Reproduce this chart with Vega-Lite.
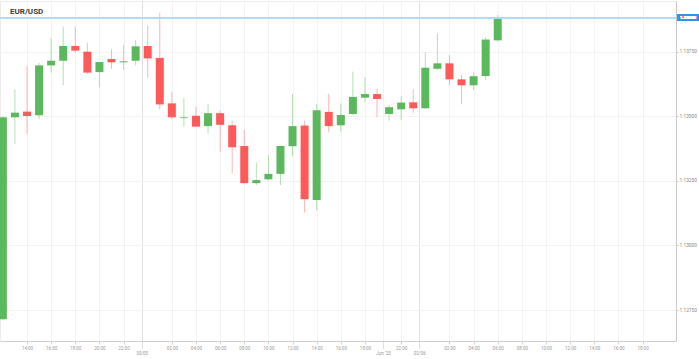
{
  "$schema": "https://vega.github.io/schema/vega-lite/v6.json",
  "width": 676,
  "height": 340,
  "autosize": {"type": "none"},
  "padding": {"top": 1, "left": 0, "right": 23, "bottom": 18},
  "background": "white",
  "config": {
    "view": {"stroke": "#ececec"},
    "font": "Roboto",
    "scale": {"continuousPadding": 0}
  },
  "title": {
    "text": "EUR/USD",
    "anchor": "start",
    "frame": "group",
    "orient": "top",
    "baseline": "middle",
    "offset": -11,
    "dx": 10,
    "dy": 8,
    "fontSize": 8,
    "fontWeight": "bold",
    "color": "#3a3a3a",
    "font": "Roboto"
  },
  "resolve": {"axis": {"x": "independent"}},
  "data": {
    "values": [
      {"i": -2, "o": 1.12714, "h": 1.13499, "l": 1.12710, "c": 1.13496},
      {"i": -1, "o": 1.13496, "h": 1.13604, "l": 1.13393, "c": 1.13514},
      {"i": 0, "o": 1.13518, "h": 1.13695, "l": 1.13431, "c": 1.13501},
      {"i": 1, "o": 1.13504, "h": 1.13707, "l": 1.13489, "c": 1.13697},
      {"i": 2, "o": 1.13697, "h": 1.13802, "l": 1.13669, "c": 1.13715},
      {"i": 3, "o": 1.13715, "h": 1.13847, "l": 1.13620, "c": 1.13772},
      {"i": 4, "o": 1.13772, "h": 1.13847, "l": 1.13746, "c": 1.13754},
      {"i": 5, "o": 1.13750, "h": 1.13785, "l": 1.13664, "c": 1.13669},
      {"i": 6, "o": 1.13671, "h": 1.13712, "l": 1.13612, "c": 1.13710},
      {"i": 7, "o": 1.13722, "h": 1.13760, "l": 1.13684, "c": 1.13709},
      {"i": 8, "o": 1.13709, "h": 1.13776, "l": 1.13679, "c": 1.13713},
      {"i": 9, "o": 1.13715, "h": 1.13795, "l": 1.13697, "c": 1.13771},
      {"i": 10, "o": 1.13772, "h": 1.13851, "l": 1.13649, "c": 1.13724},
      {"i": 11, "o": 1.13726, "h": 1.13901, "l": 1.13527, "c": 1.13546},
      {"i": 12, "o": 1.13550, "h": 1.13593, "l": 1.13489, "c": 1.13496},
      {"i": 13, "o": 1.13493, "h": 1.13571, "l": 1.13460, "c": 1.13496},
      {"i": 14, "o": 1.13502, "h": 1.13537, "l": 1.13458, "c": 1.13460},
      {"i": 15, "o": 1.13462, "h": 1.13546, "l": 1.13434, "c": 1.13512},
      {"i": 16, "o": 1.13512, "h": 1.13522, "l": 1.13363, "c": 1.13467},
      {"i": 17, "o": 1.13465, "h": 1.13483, "l": 1.13279, "c": 1.13380},
      {"i": 18, "o": 1.13385, "h": 1.13447, "l": 1.13239, "c": 1.13241},
      {"i": 19, "o": 1.13241, "h": 1.13322, "l": 1.13234, "c": 1.13253},
      {"i": 20, "o": 1.13256, "h": 1.13350, "l": 1.13251, "c": 1.13277},
      {"i": 21, "o": 1.13277, "h": 1.13387, "l": 1.13234, "c": 1.13385},
      {"i": 22, "o": 1.13384, "h": 1.13585, "l": 1.13346, "c": 1.13462},
      {"i": 23, "o": 1.13464, "h": 1.13483, "l": 1.13127, "c": 1.13179},
      {"i": 24, "o": 1.13176, "h": 1.13548, "l": 1.13136, "c": 1.13523},
      {"i": 25, "o": 1.13517, "h": 1.13587, "l": 1.13438, "c": 1.13462},
      {"i": 26, "o": 1.13465, "h": 1.13550, "l": 1.13438, "c": 1.13505},
      {"i": 27, "o": 1.13509, "h": 1.13673, "l": 1.13505, "c": 1.13575},
      {"i": 28, "o": 1.13572, "h": 1.13651, "l": 1.13554, "c": 1.13586},
      {"i": 29, "o": 1.13586, "h": 1.13608, "l": 1.13496, "c": 1.13567},
      {"i": 30, "o": 1.13509, "h": 1.13544, "l": 1.13483, "c": 1.13535},
      {"i": 31, "o": 1.13527, "h": 1.13578, "l": 1.13486, "c": 1.13553},
      {"i": 32, "o": 1.13554, "h": 1.13604, "l": 1.13514, "c": 1.13531},
      {"i": 33, "o": 1.13531, "h": 1.13748, "l": 1.13529, "c": 1.13688},
      {"i": 34, "o": 1.13684, "h": 1.13821, "l": 1.13679, "c": 1.13705},
      {"i": 35, "o": 1.13705, "h": 1.13737, "l": 1.13621, "c": 1.13643},
      {"i": 36, "o": 1.13643, "h": 1.13660, "l": 1.13546, "c": 1.13620},
      {"i": 37, "o": 1.13620, "h": 1.13670, "l": 1.13602, "c": 1.13655},
      {"i": 38, "o": 1.13656, "h": 1.13806, "l": 1.13640, "c": 1.13797},
      {"i": 39, "o": 1.13794, "h": 1.13892, "l": 1.13789, "c": 1.13882}
    ]
  },
  "layer": [
    {
      "mark": {"type": "rule", "strokeWidth": 1, "opacity": 0.45, "clip": true},
      "encoding": {
        "x": {
          "field": "i",
          "type": "quantitative",
          "scale": {"domain": [-2.237, 53.77], "nice": false, "zero": false, "padding": 0},
          "axis": {
            "title": null,
            "orient": "bottom",
            "values": [0, 2, 4, 6, 8, 12, 14, 16, 18, 20, 22, 24, 26, 28, 31, 35, 37, 39, 41, 43, 45, 47, 49, 51],
            "labelExpr": "((datum.value < 30 ? (14 + datum.value) % 24 : (datum.value - 9) % 24) < 10 ? '0' : '') + (datum.value < 30 ? (14 + datum.value) % 24 : (datum.value - 9) % 24) + ':00'",
            "labelFontSize": 4.5,
            "labelColor": "#9a9a9a",
            "labelFont": "Roboto",
            "labelPadding": 1,
            "labelFlush": false,
            "labelOverlap": false,
            "domainColor": "#cfcfcf",
            "tickColor": "#cfcfcf",
            "tickSize": 3,
            "grid": true,
            "gridColor": "#f3f3f3",
            "gridWidth": 1
          }
        },
        "y": {
          "field": "l",
          "type": "quantitative",
          "scale": {"domain": [1.1263, 1.139463], "nice": false, "zero": false, "padding": 0},
          "axis": {
            "title": null,
            "orient": "right",
            "values": [1.1275, 1.13, 1.1325, 1.135, 1.1375],
            "format": ".5f",
            "labelFontSize": 4.8,
            "labelColor": "#8a8a8a",
            "labelFont": "Roboto",
            "labelPadding": 1,
            "labelOverlap": false,
            "tickSize": 2,
            "tickColor": "#c8c8c8",
            "domainColor": "#c8c8c8",
            "grid": true,
            "gridColor": "#f3f3f3"
          }
        },
        "y2": {"field": "h"},
        "color": {"condition": {"test": "datum.c >= datum.o", "value": "#5cb85c"}, "value": "#ff5a5a"}
      }
    },
    {
      "mark": {"type": "bar", "size": 8, "clip": true},
      "encoding": {
        "x": {
          "field": "i",
          "type": "quantitative",
          "axis": {
            "title": null,
            "orient": "bottom",
            "values": [9.5, 29.5, 32.5],
            "labelExpr": "datum.value == 9.5 ? '30/05' : datum.value == 29.5 ? \"Jun '25\" : '02/06'",
            "labelFontSize": 4.5,
            "labelColor": "#9a9a9a",
            "labelFont": "Roboto",
            "labelPadding": 1.5,
            "labelFlush": false,
            "labelOverlap": false,
            "domain": false,
            "ticks": true,
            "tickSize": 8,
            "tickColor": "#c0c0c0",
            "tickDash": [1, 1],
            "grid": true,
            "gridColor": {"condition": {"test": "datum.value == 29.5", "value": "#f3f3f3"}, "value": "#e0e0e0"},
            "offset": 0
          }
        },
        "y": {"field": "o", "type": "quantitative"},
        "y2": {"field": "c"},
        "color": {"condition": {"test": "datum.c >= datum.o", "value": "#5cb85c"}, "value": "#ff5a5a"}
      }
    },
    {
      "mark": {"type": "rule", "color": "#b0d9f7", "strokeWidth": 1.3},
      "encoding": {"y": {"datum": 1.13882}}
    },
    {
      "mark": {"type": "bar", "color": "#3593e6", "size": 7, "clip": false, "cornerRadius": 1},
      "encoding": {
        "y": {"datum": 1.13882},
        "x": {"datum": 53.9, "axis": null},
        "x2": {"datum": 55.65}
      }
    },
    {
      "mark": {"type": "text", "color": "white", "fontSize": 4.4, "font": "Roboto", "clip": false, "align": "center", "baseline": "middle"},
      "encoding": {
        "y": {"datum": 1.13882},
        "x": {"datum": 54.77, "axis": null},
        "text": {"value": "1.13882"}
      }
    }
  ]
}
